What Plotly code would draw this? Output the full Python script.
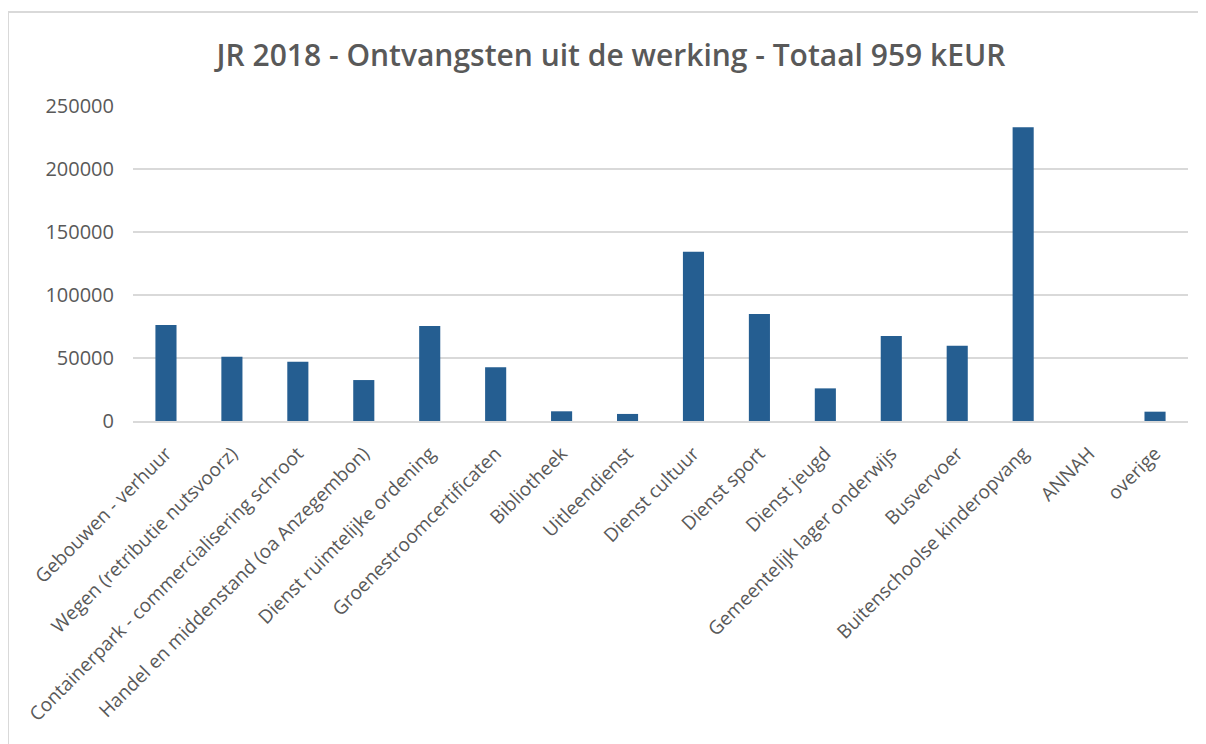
import plotly.graph_objects as go

# categories and values (EUR)
categories = [
    "Gebouwen - verhuur",
    "Wegen (retributie nutsvoorz)",
    "Containerpark - commercialisering schroot",
    "Handel en middenstand (oa Anzegembon)",
    "Dienst ruimtelijke ordening",
    "Groenestroomcertificaten",
    "Bibliotheek",
    "Uitleendienst",
    "Dienst cultuur",
    "Dienst sport",
    "Dienst jeugd",
    "Gemeentelijk lager onderwijs",
    "Busvervoer",
    "Buitenschoolse kinderopvang",
    "ANNAH",
    "overige",
]
ontvangsten = [
    76200, 51000, 47100, 32500, 75400, 42600, 7700, 5600,
    134400, 84900, 25900, 67500, 59800, 233100, 0, 7400,
]
y_ticks = [0, 50000, 100000, 150000, 200000, 250000]

title_text = "JR 2018 - Ontvangsten uit de werking - Totaal 959 kEUR"

text_grey = "#595959"
grid_grey = "#D9D9D9"

fig = go.Figure()
fig.add_trace(go.Bar(
    x=categories,
    y=ontvangsten,
    marker=dict(color="#255E91", line=dict(width=0)),
    hoverinfo="x+y",
))

# the page body adds an 8px margin, so the margins are set 8px smaller
fig.update_layout(
    width=1206,
    height=744,
    margin=dict(l=125, r=26, t=98, b=331),
    paper_bgcolor="white",
    plot_bgcolor="white",
    bargap=0.68,
    showlegend=False,
    font=dict(family="Open Sans", color=text_grey),
    title=dict(
        text=title_text,
        x=0.5, xref="container", xanchor="center",
        y=1 - 47 / 744, yanchor="middle",
        font=dict(family="Open Sans", size=30, color=text_grey, weight=600),
    ),
    # light frame round the chart like the Excel chart area
    shapes=[dict(
        type="rect", xref="paper", yref="paper",
        x0=(8 - 133) / 1055, x1=1.2, y0=-1.5, y1=(421 - 12) / 315,
        line=dict(color=grid_grey, width=2), fillcolor="rgba(0,0,0,0)",
        layer="below",
    )],
)

fig.update_xaxes(
    tickangle=-45,
    tickfont=dict(size=19, color=text_grey),
    showline=True, linecolor=grid_grey, linewidth=2,
    showgrid=False, ticks="", ticklabelstandoff=12,
)
fig.update_yaxes(
    range=[0, 250000],
    tickvals=y_ticks,
    tickformat="d",
    tickfont=dict(size=20, color=text_grey),
    showgrid=True, gridcolor=grid_grey, gridwidth=2,
    zeroline=False, showline=False, ticks="",
    ticklabelstandoff=18,
)

fig.write_html("out.html")
